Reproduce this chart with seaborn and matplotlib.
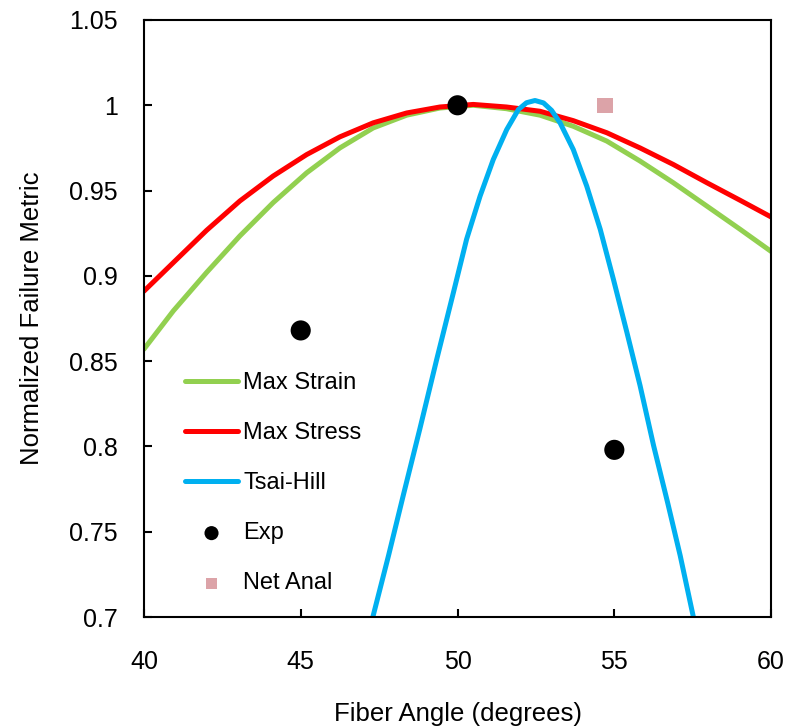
import matplotlib
matplotlib.use("Agg")
import matplotlib.pyplot as plt
import seaborn as sns

# ---- data ----
curve_angle = [40.0, 40.94, 42.0, 43.06, 44.12, 45.19, 46.25, 47.31, 48.38, 49.44, 50.5,
               51.56, 52.63, 53.69, 54.76, 55.82, 56.88, 57.95, 59.01, 60.0]
max_strain = [0.857, 0.8795, 0.902, 0.9234, 0.9429, 0.9604, 0.975, 0.9867, 0.9942, 0.9984, 1.0,
              0.998, 0.9942, 0.9877, 0.979, 0.9673, 0.9546, 0.9409, 0.9273, 0.9143]
max_stress = [0.891, 0.9078, 0.9267, 0.9439, 0.9585, 0.9711, 0.9815, 0.9897, 0.9955, 0.999, 1.0005,
              0.999, 0.9965, 0.991, 0.9839, 0.975, 0.9653, 0.9546, 0.9443, 0.9345]

th_angle = [47.3, 47.8, 48.27, 48.8, 49.34, 49.87, 50.29, 50.72, 51.14, 51.57, 51.94, 52.2,
            52.47, 52.74, 53.0, 53.27, 53.69, 54.12, 54.55, 54.97, 55.4, 55.82, 56.25, 56.7,
            57.1, 57.52]
tsai_hill = [0.700, 0.736, 0.7713, 0.8104, 0.8513, 0.8903, 0.9215, 0.9468, 0.9682, 0.9858,
             0.9975, 1.0015, 1.0028, 1.0014, 0.997, 0.9897, 0.9741, 0.9526, 0.9273, 0.898,
             0.8669, 0.8357, 0.8006, 0.767, 0.736, 0.700]

exp_angle = [45, 50, 55]
exp_value = [0.868, 1.0, 0.798]

net_angle = [54.7]
net_value = [1.0]

x_ticks = [40, 45, 50, 55, 60]
y_ticks = [0.7, 0.75, 0.8, 0.85, 0.9, 0.95, 1.0, 1.05]
y_tick_labels = ["0.7", "0.75", "0.8", "0.85", "0.9", "0.95", "1", "1.05"]

sns.set_theme(style="white")
plt.rcParams['font.family'] = ['Liberation Sans', 'DejaVu Sans']
plt.rcParams['text.color'] = 'black'
plt.rcParams['axes.labelcolor'] = 'black'

fig = plt.figure(figsize=(7.95, 7.27), dpi=100)
ax = fig.add_axes([0.181, 0.1513, 0.789, 0.8212])

lw = 3.6
sns.lineplot(x=curve_angle, y=max_strain, color="#92D050", linewidth=lw, label="Max Strain", ax=ax, sort=False)
sns.lineplot(x=curve_angle, y=max_stress, color="#FF0000", linewidth=lw, label="Max Stress", ax=ax, sort=False)
sns.lineplot(x=th_angle, y=tsai_hill, color="#00B0F0", linewidth=lw, label="Tsai-Hill", ax=ax, sort=False)
sns.scatterplot(x=exp_angle, y=exp_value, color="black", s=210, marker="o", edgecolor="none",
                label="Exp", ax=ax, zorder=5)
sns.scatterplot(x=net_angle, y=net_value, color="#DCA3A8", s=120, marker="s", edgecolor="none",
                label="Net Anal", ax=ax, zorder=5)

ax.set_xlim(40, 60)
ax.set_ylim(0.7, 1.05)
ax.set_xticks(x_ticks)
ax.set_xticklabels([str(t) for t in x_ticks])
ax.set_yticks(y_ticks)
ax.set_yticklabels(y_tick_labels)

for sp in ax.spines.values():
    sp.set_visible(True)
    sp.set_color("black")
    sp.set_linewidth(1.5)

ax.tick_params(axis="x", direction="in", length=6, width=1.5, labelsize=18, pad=24, colors="black")
ax.tick_params(axis="y", direction="in", length=6, width=1.5, labelsize=18, pad=19, colors="black")
ax.tick_params(top=False, right=False, bottom=True, left=True)

ax.set_xlabel("Fiber Angle (degrees)", fontsize=18.5, labelpad=20, color="black")
ax.set_ylabel("Normalized Failure Metric", fontsize=18.5, labelpad=18, color="black")

leg = ax.legend(loc="lower left", bbox_to_anchor=(0.0504, 0.022), frameon=False, fontsize=17,
                handlelength=2.25, handletextpad=0.21, labelspacing=1.19, markerscale=0.7,
                borderaxespad=0.0)
for t in leg.get_texts():
    t.set_color("black")

fig.savefig("out.png", dpi=100)
